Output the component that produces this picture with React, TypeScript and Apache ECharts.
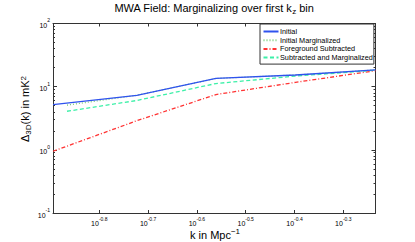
import React, { useEffect, useRef } from 'react';
import * as echarts from 'echarts';

// k bins (Mpc^-1) and power values (mK^2)
const kBins = [0.1274, 0.1892, 0.2748, 0.4, 0.5834];
const kBinsMarg = [0.1361, 0.1892, 0.2748, 0.4, 0.5834];
const initial = [5.2, 7.3, 13.5, 15.3, 18.4];
const initialMarg = [5.1, 7.3, 13.5, 15.3, 18.4];
const fgSubtracted = [0.95, 2.89, 7.5, 11.7, 17.9];
const subMarg = [4.08, 6.04, 11.2, 14.7, 18.2];

const seriesNames = ['Initial', 'Initial Marginalized', 'Foreground Subtracted', 'Subtracted and Marginalized'];

// tick exponents
const xTickExps = [-0.8, -0.7, -0.6, -0.5, -0.4, -0.3];
const yTickExps = [-1, 0, 1, 2];

const FONT = 'Liberation Sans, Arial, Helvetica, sans-serif';
const AXIS_COLOR = '#333';

const yMinor: number[] = [];
for (let n = -1; n <= 1; n++) {
  for (let m = 2; m <= 9; m++) yMinor.push(Math.log10(m * Math.pow(10, n)));
}

const toPts = (ks: number[], vs: number[]) => ks.map((k, i) => [Math.log10(k), Math.log10(vs[i])]);

const tickRich = {
  b: { fontSize: 7, lineHeight: 11.3, verticalAlign: 'bottom', fontFamily: FONT, color: '#000' },
  s: { fontSize: 5, lineHeight: 5, verticalAlign: 'top', fontFamily: FONT, color: '#000' },
};

export default function App() {
  const ref = useRef<HTMLDivElement>(null);
  useEffect(() => {
    if (!ref.current) return;
    const chart = echarts.init(ref.current, undefined, { renderer: 'svg' });
    const xMin = Math.log10(kBins[0]);
    const xMax = Math.log10(kBins[kBins.length - 1]);
    const yMin = yTickExps[0];
    const yMax = yTickExps[yTickExps.length - 1];

    const xBase = {
      type: 'value',
      min: xMin,
      max: xMax,
      splitLine: { show: false },
      axisLine: { show: true, onZero: false, lineStyle: { color: AXIS_COLOR, width: 1 } },
      axisTick: { show: true, inside: true, length: 3, customValues: xTickExps, lineStyle: { color: AXIS_COLOR } },
    };
    const yBase = {
      type: 'value',
      min: yMin,
      max: yMax,
      interval: 1,
      splitLine: { show: false },
    };

    chart.setOption({
      animation: false,
      grid: { left: 53, top: 23.5, width: 322.5, height: 189.5, outerBoundsMode: 'none' },
      xAxis: [
        {
          ...xBase,
          position: 'bottom',
          axisLabel: {
            show: true,
            customValues: xTickExps,
            margin: 3,
            formatter: (v: number) => `{b|10}{s|${v.toFixed(1)}}`,
            rich: tickRich,
          },
        },
        {
          ...xBase,
          position: 'top',
          axisLabel: { show: false },
        },
      ],
      yAxis: [
        {
          ...yBase,
          position: 'left',
          axisLine: { show: true, onZero: false, lineStyle: { color: AXIS_COLOR, width: 1 } },
          axisTick: { show: true, inside: true, length: 4, lineStyle: { color: AXIS_COLOR } },
          axisLabel: {
            show: true,
            margin: 3,
            formatter: (v: number) => `{b|10}{s|${v}}`,
            rich: tickRich,
          },
        },
        {
          ...yBase,
          position: 'left',
          axisLine: { show: false },
          axisTick: { show: true, inside: true, length: 2, customValues: yMinor, lineStyle: { color: AXIS_COLOR } },
          axisLabel: { show: false },
        },
        {
          ...yBase,
          position: 'right',
          axisLine: { show: true, onZero: false, lineStyle: { color: AXIS_COLOR, width: 1 } },
          axisTick: { show: true, inside: true, length: 4, lineStyle: { color: AXIS_COLOR } },
          axisLabel: { show: false },
        },
        {
          ...yBase,
          position: 'right',
          axisLine: { show: false },
          axisTick: { show: true, inside: true, length: 2, customValues: yMinor, lineStyle: { color: AXIS_COLOR } },
          axisLabel: { show: false },
        },
      ],
      legend: {
        data: seriesNames,
        orient: 'vertical',
        left: 260,
        top: 24,
        padding: [4, 1, 3, 2.5],
        itemWidth: 15,
        itemHeight: 7,
        itemGap: 1.7,
        backgroundColor: '#fff',
        borderColor: '#333',
        borderWidth: 1,
        borderRadius: 0,
        selectedMode: false,
        itemStyle: { opacity: 0 },
        textStyle: { fontSize: 7.3, fontFamily: FONT, color: '#000', lineHeight: 7, padding: [0, 0, 0, -3.5] },
      },
      series: [
        {
          name: seriesNames[1],
          type: 'line',
          data: toPts(kBinsMarg, initialMarg),
          symbol: 'none',
          z: 2,
          lineStyle: { color: '#77cc77', width: 1.3, type: [1, 2] },
          itemStyle: { color: '#77cc77' },
        },
        {
          name: seriesNames[0],
          type: 'line',
          data: toPts(kBins, initial),
          symbol: 'none',
          z: 5,
          lineStyle: { color: '#2f52ee', width: 1.3 },
          itemStyle: { color: '#2f52ee' },
        },
        {
          name: seriesNames[2],
          type: 'line',
          data: toPts(kBins, fgSubtracted),
          symbol: 'none',
          z: 3,
          lineStyle: { color: '#ff3333', width: 1.3, type: [4, 2, 1, 2] },
          itemStyle: { color: '#ff3333' },
        },
        {
          name: seriesNames[3],
          type: 'line',
          data: toPts(kBinsMarg, subMarg),
          symbol: 'none',
          z: 4,
          lineStyle: { color: '#3cf0a8', width: 1.3, type: [4, 2.5] },
          itemStyle: { color: '#3cf0a8' },
        },
      ],
      graphic: [
        {
          type: 'text',
          x: 214,
          y: 2.4,
          style: {
            text: '{n|MWA Field: Marginalizing over first k}{sub|z}{n| bin}',
            align: 'center',
            verticalAlign: 'top',
            rich: {
              n: { fontSize: 11, lineHeight: 13, verticalAlign: 'top', fontFamily: FONT, fill: '#000' },
              sub: { fontSize: 8, lineHeight: 8, padding: [8, 0, 0, 0], verticalAlign: 'bottom', fontFamily: FONT, fill: '#000' },
            },
          },
        },
        {
          type: 'text',
          x: 215,
          y: 233.5,
          style: {
            text: '{n|k in Mpc}{sup|\u22121}',
            align: 'center',
            verticalAlign: 'middle',
            rich: {
              n: { fontSize: 11, lineHeight: 13, padding: [2, 0, 0, 0], verticalAlign: 'bottom', fontFamily: FONT, fill: '#000' },
              sup: { fontSize: 8, lineHeight: 8, verticalAlign: 'top', fontFamily: FONT, fill: '#000' },
            },
          },
        },
        {
          type: 'text',
          x: 26,
          y: 109,
          rotation: Math.PI / 2,
          style: {
            text: '{n|\u0394}{sub|3D}{n|(k) in mK}{sup|2}',
            align: 'center',
            verticalAlign: 'middle',
            rich: {
              n: { fontSize: 11, lineHeight: 13, verticalAlign: 'top', fontFamily: FONT, fill: '#000' },
              sub: { fontSize: 8, lineHeight: 8, padding: [8, 0, 0, 0], verticalAlign: 'bottom', fontFamily: FONT, fill: '#000' },
              sup: { fontSize: 8, lineHeight: 8, verticalAlign: 'top', fontFamily: FONT, fill: '#000' },
            },
          },
        },
      ],
    });
    return () => chart.dispose();
  }, []);
  return <div ref={ref} style={{ position: 'fixed', left: 0, top: 0, width: 415, height: 242, background: '#fff' }} />;
}
